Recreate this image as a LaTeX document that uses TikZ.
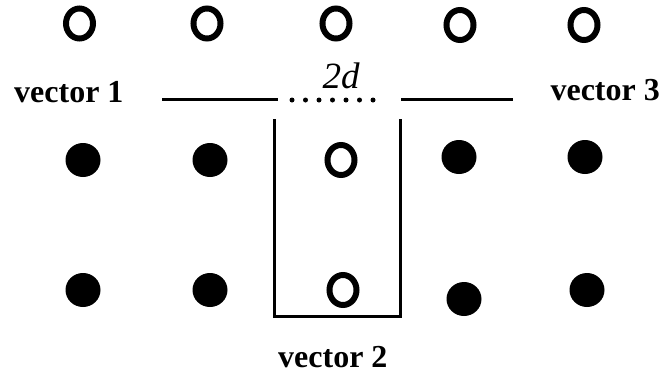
\documentclass[tikz,border=0pt]{standalone}
\usepackage{fontspec}
\setmainfont{Liberation Serif}
\usetikzlibrary{shapes.geometric}
\tikzset{
  opendot/.style={ellipse, draw=black, line width=6pt, fill=white, minimum width=27pt, minimum height=30pt, inner sep=0pt},
  fulldot/.style={ellipse, fill=black, minimum width=35pt, minimum height=34pt, inner sep=0pt},
  vlabel/.style={inner sep=0pt, font=\fontsize{32}{36}\selectfont\bfseries},
  seg/.style={line width=3pt},
}
\begin{document}
\begin{tikzpicture}[x=1pt,y=-1pt]
\useasboundingbox (0,0) rectangle (669,375);
% top row
\node[opendot] (a1) at (79.5,23.5) {};
\node[opendot] (a2) at (207,23.5) {};
\node[opendot] (a3) at (336,23.5) {};
\node[opendot] (a4) at (460,25) {};
\node[opendot] (a5) at (584,25) {};
% middle row
\node[fulldot] (b1) at (83,160) {};
\node[fulldot] (b2) at (210,160) {};
\node[opendot] (b3) at (341,160) {};
\node[fulldot] (b4) at (459,157) {};
\node[fulldot] (b5) at (585,157) {};
% bottom row
\node[fulldot] (c1) at (83,290) {};
\node[fulldot] (c2) at (210,290) {};
\node[opendot] (c3) at (343,290) {};
\node[fulldot] (c4) at (464,299) {};
\node[fulldot] (c5) at (587,290) {};
% labels
\node[vlabel, anchor=base west] (v1) at (14,102) {vector 1};
\node[vlabel, anchor=base east] (v3) at (660,100) {vector 3};
\node[vlabel, anchor=base west] (v2) at (278,367) {vector 2};
\node[inner sep=0pt, anchor=base, font=\fontsize{37}{40}\selectfont\itshape] (dd) at (341,88) {2d};
% lines
\coordinate (l1) at (162,99);
\coordinate (l2) at (278,99);
\coordinate (r1) at (401,99);
\coordinate (r2) at (513,99);
\coordinate (d1) at (292,100);
\coordinate (d2) at (374,100);
\draw[seg] (l1) -- (l2);
\draw[seg] (r1) -- (r2);
\draw[line width=5pt, line cap=round, dash pattern=on 0pt off 13.5pt] (d1) -- (d2);
% box
\coordinate (bt1) at (274,119);
\coordinate (bt2) at (400,119);
\coordinate (bb) at (337,316);
\draw[seg] (bt1) |- (bb) -| (bt2);
\end{tikzpicture}
\end{document}
